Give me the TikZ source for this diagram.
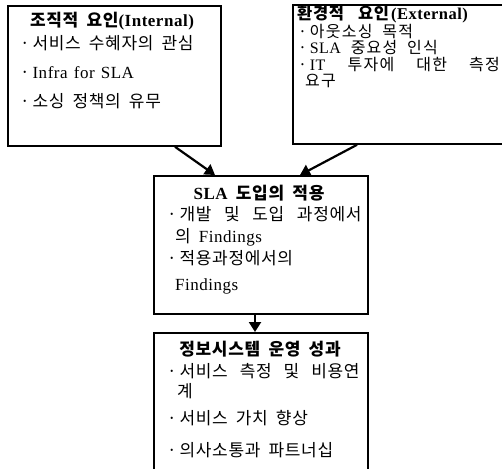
\documentclass[tikz,border=0pt]{standalone}
\usepackage{fontspec}
\setmainfont{Noto Sans CJK KR}[LetterSpace=4, WordSpace=1.8]
\newfontfamily\kb{Noto Sans CJK KR}[LetterSpace=8, WordSpace=2]
\newfontfamily\lat{Liberation Serif}[Scale=1.0, LetterSpace=3, WordSpace=1.3]
\usetikzlibrary{arrows.meta}
\tikzset{
  box/.style={draw=black, line width=1.8pt, fill=none, inner sep=0pt, anchor=north west},
  txt/.style={inner sep=0pt, anchor=base west, font=\fontsize{17}{19}\selectfont},
  txtb/.style={inner sep=0pt, anchor=base west, font=\kb\fontsize{16}{16.5}\selectfont},
  ttl/.style={txt, font=\fontsize{17}{19}\selectfont\bfseries},
  arr/.style={line width=2.2pt, -{Triangle[width=12pt,length=10pt]}},
}
\begin{document}
\begin{tikzpicture}[x=1pt,y=-1pt]
\useasboundingbox (0,0) rectangle (502,468);
\clip (0,0) rectangle (502,468);
% boxes
\node[box, minimum width=213pt, minimum height=140pt] (b1) at (7,5) {};
\node[box, minimum width=216pt, minimum height=139pt] (b2) at (292,4) {};
\node[box, minimum width=214pt, minimum height=138pt] (b3) at (153,175) {};
\node[box, minimum width=214pt, minimum height=143pt] (b4) at (153,332) {};
% box 1
\node[ttl, anchor=base] (t1) at (112,27) {조직적 요인{\lat(Internal)}};
\node[txt] (t1a) at (20,50) {·\,서비스 수혜자의 관심};
\node[txt] (t1b) at (20,78) {·\,{\lat Infra for SLA}};
\node[txt] (t1c) at (20,107) {·\,소싱 정책의 유무};
% box 2
\node[ttl, font=\fontsize{16.5}{17}\selectfont\bfseries] (t2) at (297,20) {환경적\hspace{6pt} 요인\hspace{2pt}{\lat(External)}};
\node[txtb] (t2a) at (298,37.5) {·\,아웃소싱 목적};
\node[txtb] (t2b) at (298,54) {·\,{\lat SLA} 중요성 인식};
\node[txtb] (t2c) at (298,70.5) {·\,\makebox[190pt][s]{{\lat IT} 투자에 대한 측정}};
\node[txtb] (t2d) at (305,87) {요구};
% box 3
\node[ttl, anchor=base] (t3) at (259,199) {{\lat SLA} 도입의 적용};
\node[txt] (t3a) at (167,220) {·\,\makebox[182pt][s]{개발 및 도입 과정에서}};
\node[txt] (t3b) at (175,242) {의 {\lat Findings}};
\node[txt] (t3c) at (167,264) {·\,적용과정에서의};
\node[txt] (t3d) at (175,290) {\lat Findings};
% box 4
\node[ttl, anchor=base] (t4) at (260,355) {정보시스템 운영 성과};
\node[txt] (t4a) at (167,377) {·\,\makebox[180pt][s]{서비스 측정 및 비용연}};
\node[txt] (t4b) at (177,397) {계};
\node[txt] (t4c) at (167,424) {·\,서비스 가치 향상};
\node[txt] (t4d) at (167,456) {·\,의사소통과 파트너십};
% arrows
\draw[arr] ([xshift=168pt]b1.south west) -- ([xshift=62pt]b3.north west);
\draw[arr] ([xshift=65pt]b2.south west) -- ([xshift=147pt]b3.north west);
\draw[arr] ([xshift=102pt]b3.south west) -- ([xshift=102pt]b4.north west);
\end{tikzpicture}
\end{document}
